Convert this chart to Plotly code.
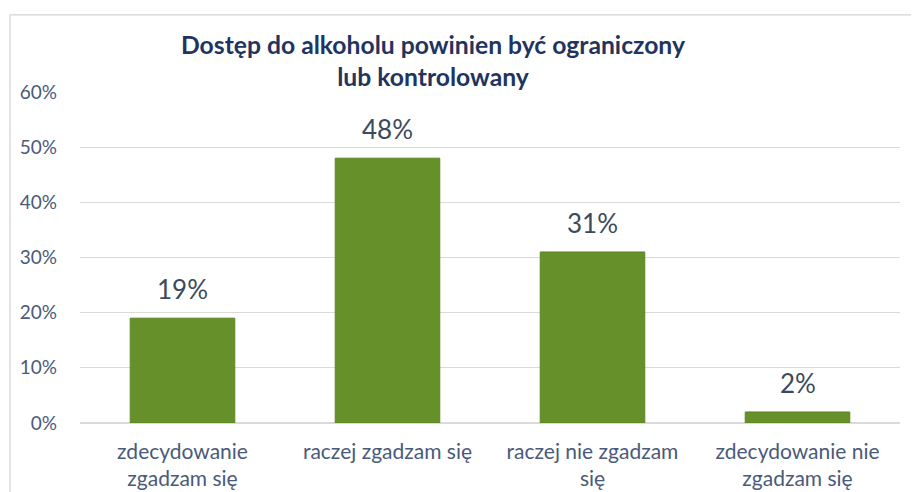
import plotly.graph_objects as go

categories = ["zdecydowanie<br>zgadzam się", "raczej zgadzam się", "raczej nie zgadzam<br>się", "zdecydowanie nie<br>zgadzam się"]
values = [19, 48, 31, 2]
value_labels = ["19%", "48%", "31%", "2%"]
y_ticks = [0, 10, 20, 30, 40, 50, 60]
y_tick_labels = ["0%", "10%", "20%", "30%", "40%", "50%", "60%"]
title_text = "<b>Dostęp do alkoholu powinien być ograniczony<br>lub kontrolowany</b>"

FONT = "Lato, Open Sans, sans-serif"

fig = go.Figure()
fig.add_trace(go.Bar(
    x=categories, y=values,
    marker=dict(color="#65902A", line=dict(color="#5C8522", width=1)),
    width=0.51,
    hoverinfo="skip",
))

for c, v, t in zip(categories, values, value_labels):
    fig.add_annotation(x=c, y=v, text=t, showarrow=False, yanchor="bottom", yshift=11,
                       font=dict(family=FONT, size=26, color="#3B4A5C"))

# title as annotation for precise placement
fig.add_annotation(xref="paper", yref="paper", x=0.4317, y=1.0937, xanchor="center", yanchor="middle",
                   text=title_text, showarrow=False,
                   font=dict(family=FONT, size=24.7, color="#1F3560"))

# chart border (top and left edges visible)
fig.add_shape(type="line", xref="paper", yref="paper", x0=-0.0854, x1=1.05, y0=1.233, y1=1.233,
              line=dict(color="#C8C8D0", width=1), layer="below")
fig.add_shape(type="line", xref="paper", yref="paper", x0=-0.0854, x1=-0.0854, y0=-0.3, y1=1.233,
              line=dict(color="#C8C8D0", width=1), layer="below")

fig.update_layout(
    width=911, height=484,
    margin=dict(l=72, r=19, t=84, b=69, autoexpand=False),
    paper_bgcolor="white", plot_bgcolor="white",
    showlegend=False,
    xaxis=dict(showgrid=False, showline=False, ticks="", automargin=False, ticklabelstandoff=14,
               tickfont=dict(family=FONT, size=21, color="#4A5A7A")),
    yaxis=dict(range=[0, 60], tickvals=y_ticks, ticktext=y_tick_labels, automargin=False,
               showgrid=True, gridcolor="#DADADA", gridwidth=1, zeroline=True, zerolinecolor="#DADADA",
               showline=False, ticks="", ticklabelstandoff=22,
               tickfont=dict(family=FONT, size=19, color="#4A5A7A")),
)

fig.write_html("out.html")
